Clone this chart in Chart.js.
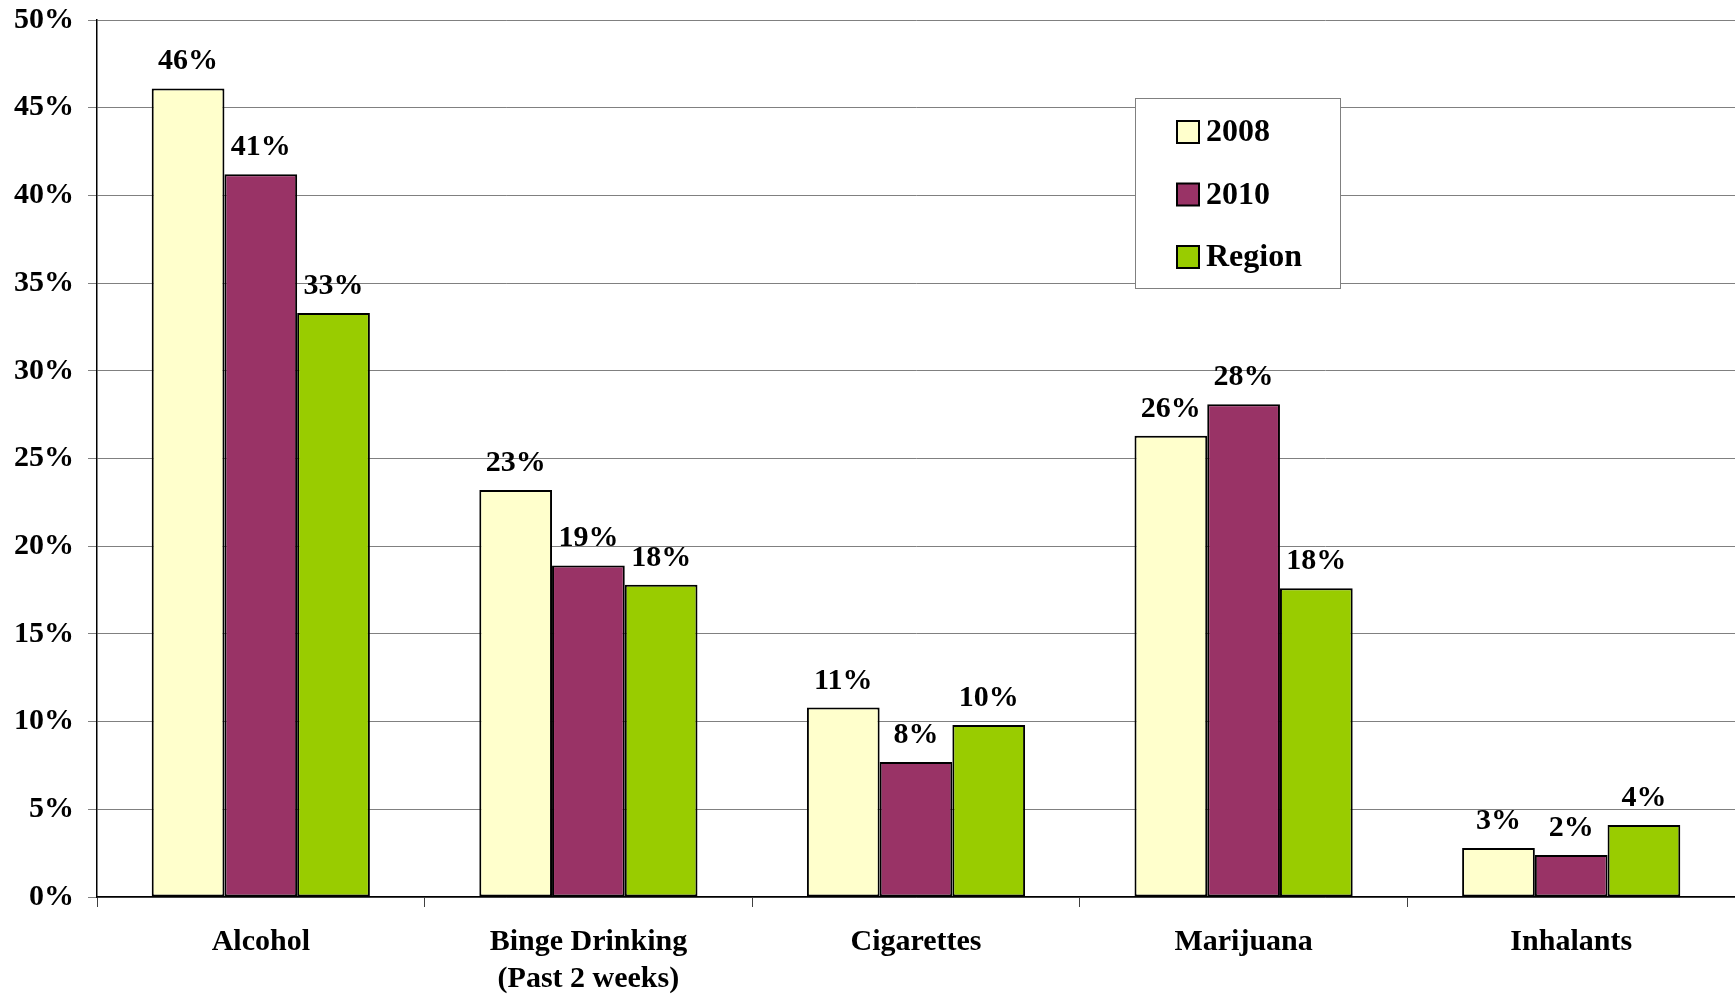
<!DOCTYPE html>
<html>
<head>
<meta charset="utf-8">
<style>
  html, body { margin: 0; padding: 0; background: #fff; }
  #wrap { width: 1735px; height: 995px; }
</style>
<script src="https://cdn.jsdelivr.net/npm/chart.js@4/dist/chart.umd.min.js"></script>
</head>
<body>
<div id="wrap"><canvas id="usageChart" width="1735" height="995"></canvas></div>
<script>
/*---- substance use by category ----- */

var categories = ["Alcohol", ["Binge Drinking", "(Past 2 weeks)"], "Cigarettes", "Marijuana", "Inhalants"];
var seriesNames = ["2008", "2010", "Region"];
var values2008 = [46.1, 23.2, 10.8, 26.3, 2.8];
var values2010 = [41.2, 18.9, 7.7, 28.1, 2.4];
var valuesRegion = [33.3, 17.8, 9.8, 17.6, 4.1];
var barColors = ["#FFFFCC", "#993366", "#99CC00"];
var yTicks = [0, 5, 10, 15, 20, 25, 30, 35, 40, 45, 50];

var serif = "'Liberation Serif', 'Times New Roman', serif";

// percent labels above each bar
var barLabels = {
	id: 'barLabels',
	afterDatasetsDraw: function (chart) {
		var ctx = chart.ctx;
		ctx.save();
		ctx.font = "bold 30px " + serif;
		ctx.fillStyle = "#000";
		ctx.textAlign = "center";
		ctx.textBaseline = "alphabetic";
		chart.data.datasets.forEach(function (ds, i) {
			chart.getDatasetMeta(i).data.forEach(function (bar, j) {
				ctx.fillText(Math.round(ds.data[j]) + "%", bar.x, bar.y - 19);
			});
		});
		ctx.restore();
	}
};

// boxed legend sitting inside the plot
var boxLegend = {
	id: 'boxLegend',
	afterDraw: function (chart) {
		var ctx = chart.ctx;
		var x = 1135, y = 98, w = 205, h = 190;
		ctx.save();
		ctx.fillStyle = "#fff";
		ctx.fillRect(x, y, w, h);
		ctx.strokeStyle = "#808080";
		ctx.lineWidth = 1;
		ctx.strokeRect(x + 0.5, y + 0.5, w, h);
		ctx.font = "bold 32px " + serif;
		ctx.textBaseline = "middle";
		ctx.textAlign = "left";
		chart.data.datasets.forEach(function (ds, i) {
			var cy = 132 + i * 62.5;
			ctx.fillStyle = ds.backgroundColor;
			ctx.fillRect(x + 42, cy - 11, 22, 22);
			ctx.strokeStyle = "#000";
			ctx.lineWidth = 2;
			ctx.strokeRect(x + 42, cy - 11, 22, 22);
			ctx.fillStyle = "#000";
			ctx.fillText(ds.label, x + 71, cy + 1);
		});
		ctx.restore();
	}
};

var ctx = document.getElementById('usageChart').getContext('2d');
var usageChart = new Chart(ctx, {
	type: 'bar',
	data: {
		labels: categories,
		datasets: [
			{ label: seriesNames[0], data: values2008, backgroundColor: barColors[0] },
			{ label: seriesNames[1], data: values2010, backgroundColor: barColors[1] },
			{ label: seriesNames[2], data: valuesRegion, backgroundColor: barColors[2] }
		].map(function (d) {
			d.borderColor = "#000";
			d.borderWidth = 2;
			d.borderSkipped = false;
			d.categoryPercentage = 0.666;
			d.barPercentage = 1.0;
			return d;
		})
	},
	options: {
		responsive: false,
		animation: false,
		layout: { padding: { top: 20, right: 0, left: 0, bottom: 0 } },
		plugins: {
			legend: { display: false },
			tooltip: { enabled: false }
		},
		scales: {
			x: {
				grid: {
					offset: true,
					drawOnChartArea: false,
					drawTicks: true,
					tickLength: 10,
					color: "#404040"
				},
				border: { color: "#000", width: 1.5 },
				ticks: {
					color: "#000",
					font: { family: serif, size: 30, weight: 'bold', lineHeight: 1.25 },
					padding: 16,
					maxRotation: 0,
					autoSkip: false
				},
				afterFit: function (scale) { scale.height = 98; }
			},
			y: {
				min: 0,
				max: 50,
				afterBuildTicks: function (scale) {
					scale.ticks = yTicks.map(function (v) { return { value: v }; });
				},
				grid: {
					color: "#808080",
					lineWidth: 1,
					drawTicks: true,
					tickLength: 9
				},
				border: { color: "#000", width: 1.5 },
				ticks: {
					color: "#000",
					font: { family: serif, size: 30, weight: 'bold' },
					padding: 14,
					callback: function (v) { return v + "%"; }
				},
				afterFit: function (scale) {
					scale.width = 97;
					scale.paddingTop = 0;
					scale.paddingBottom = 0;
				}
			}
		}
	},
	plugins: [barLabels, boxLegend]
});
</script>
</body>
</html>
